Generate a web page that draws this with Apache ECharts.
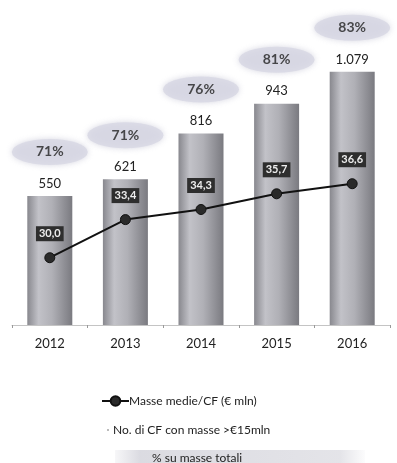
<!DOCTYPE html>
<html>
<head>
<meta charset="utf-8">
<script src="https://cdn.jsdelivr.net/npm/echarts@6/dist/echarts.min.js"></script>
<style>
  html, body { margin: 0; padding: 0; background: #fff; }
  #chart { width: 397px; height: 463px; }
</style>
</head>
<body>
<div id="chart"></div>
<script>
// Years on the category axis
const years = ['2012', '2013', '2014', '2015', '2016'];
// Number of funds with assets above €15mln (bars)
const fundCounts = [550, 621, 816, 943, 1079];
// Average assets per fund, € mln (line)
const avgAssets = [30.0, 33.4, 34.3, 35.7, 36.6];
// Share of total assets, % (ellipse badges)
const shareTotal = [71, 71, 76, 81, 83];

const FONT = 'Lato, "Open Sans", sans-serif';
const fmtIt = v => v.toLocaleString('it-IT', { minimumFractionDigits: 0 });
const fmtDec = v => v.toFixed(1).replace('.', ',');

const chart = echarts.init(document.getElementById('chart'));

const barGradient = new echarts.graphic.LinearGradient(0, 0, 1, 0, [
  { offset: 0, color: '#88888e' },
  { offset: 0.25, color: '#c2c2c8' },
  { offset: 0.55, color: '#b0b0b6' },
  { offset: 1, color: '#7a7a80' }
]);

chart.setOption({
  backgroundColor: '#ffffff',
  animation: false,
  textStyle: { fontFamily: FONT },
  grid: { left: 12, right: 7, top: 20, bottom: 138 },
  xAxis: {
    type: 'category',
    data: years,
    axisLine: { lineStyle: { color: '#c4c4c4', width: 1 } },
    axisTick: { show: true, length: 3, lineStyle: { color: '#999' } },
    axisLabel: { margin: 12, fontSize: 13, color: '#222', fontFamily: FONT }
  },
  yAxis: [
    { type: 'value', min: 0, max: 1300, show: false },
    { type: 'value', min: 24, max: 51.2, show: false }
  ],
  legend: [
    {
      data: ['Masse medie/CF (€ mln)'],
      left: 101, top: 395, padding: 0,
      itemWidth: 27, itemHeight: 12,
      textStyle: { fontSize: 12, color: '#222', padding: [0, 0, 0, -5] }
    },
    {
      data: [{ name: 'No. di CF con masse >€15mln', itemStyle: { color: '#bbb' } }],
      left: 107, top: 424, padding: 0,
      itemWidth: 2, itemHeight: 2, icon: 'rect',
      textStyle: { fontSize: 12, color: '#222', padding: [0, 0, 0, -1] }
    },
    {
      data: [{ name: '% su masse totali', icon: 'none' }],
      left: 122, top: 451, padding: 0,
      textStyle: { fontSize: 12, color: '#222' }
    }
  ],
  graphic: [
    {
      type: 'rect', z: -1,
      shape: { x: 115, y: 450, width: 250, height: 15 },
      style: {
        fill: new echarts.graphic.LinearGradient(0, 0, 1, 0, [
          { offset: 0, color: 'rgba(215,215,222,0.2)' },
          { offset: 0.1, color: 'rgba(215,215,222,0.9)' },
          { offset: 0.9, color: 'rgba(225,225,230,0.9)' },
          { offset: 1, color: 'rgba(225,225,230,0.1)' }
        ])
      }
    }
  ],
  series: [
    {
      name: 'No. di CF con masse >€15mln',
      type: 'bar',
      yAxisIndex: 0,
      data: fundCounts,
      barWidth: 45,
      itemStyle: { color: barGradient },
      label: {
        show: true, position: 'top', distance: 6,
        fontSize: 13, color: '#222',
        formatter: p => fmtIt(p.value)
      },
      z: 2
    },
    {
      name: '% su masse totali',
      type: 'scatter',
      yAxisIndex: 0,
      data: fundCounts,
      symbol: 'circle',
      symbolSize: [76, 26],
      symbolOffset: [0, -44],
      itemStyle: { color: '#d7d7e3', shadowBlur: 6, shadowColor: 'rgba(200,200,215,0.9)' },
      label: {
        show: true, position: 'inside',
        fontSize: 14, fontWeight: 'bold', color: '#222',
        formatter: p => shareTotal[p.dataIndex] + '%'
      },
      z: 1
    },
    {
      name: 'Masse medie/CF (€ mln)',
      type: 'line',
      yAxisIndex: 1,
      data: avgAssets,
      symbol: 'circle',
      symbolSize: 10,
      lineStyle: { color: '#111', width: 2 },
      itemStyle: { color: '#2a2a2a', borderColor: '#111', borderWidth: 1 },
      label: {
        show: true, position: 'top', distance: 11,
        backgroundColor: '#2e2e2e', padding: [2, 3],
        color: '#eee', fontSize: 11, fontWeight: 'bold',
        formatter: p => fmtDec(p.value)
      },
      z: 5
    }
  ]
});
</script>
</body>
</html>
